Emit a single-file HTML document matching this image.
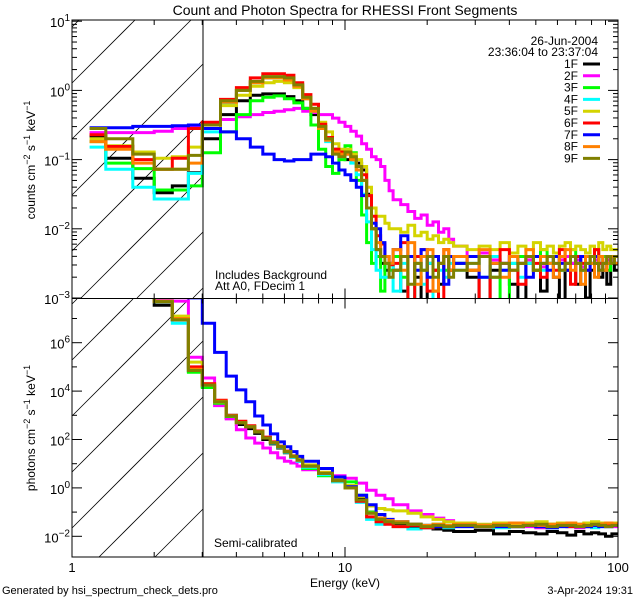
<!DOCTYPE html>
<html><head><meta charset="utf-8"><style>
html,body{margin:0;padding:0;background:#fff;width:640px;height:600px;overflow:hidden;}
svg{display:block;font-family:"Liberation Sans",sans-serif;}
</style></head><body>
<svg id="chart" width="640" height="600" viewBox="0 0 640 600" xmlns="http://www.w3.org/2000/svg">
<defs>
<clipPath id="clipTop"><rect x="72" y="20" width="546" height="278"/></clipPath>
<clipPath id="clipBot"><rect x="72" y="299" width="546" height="258"/></clipPath>
</defs>
<rect width="640" height="600" fill="#fff"/>
<text x="345" y="15" font-size="14" text-anchor="middle">Count and Photon Spectra for RHESSI Front Segments</text>
<g id="hatch"></g>
<g id="seriesTop" clip-path="url(#clipTop)"></g>
<g id="seriesBot" clip-path="url(#clipBot)"></g>
<g id="axes"></g>
<line x1="203" y1="20" x2="203" y2="557" stroke="#000" stroke-width="1"/>
<text x="598" y="45" font-size="12" text-anchor="end">26-Jun-2004</text>
<text x="598" y="56" font-size="12" text-anchor="end">23:36:04 to 23:37:04</text>
<g id="legend"></g>
<text x="215" y="279" font-size="12">Includes Background</text>
<text x="215" y="290" font-size="12">Att A0, FDecim 1</text>
<text x="214" y="547" font-size="12">Semi-calibrated</text>
<text x="345" y="587" font-size="12" text-anchor="middle">Energy (keV)</text>
<text x="2" y="594" font-size="11">Generated by hsi_spectrum_check_dets.pro</text>
<text x="633" y="594" font-size="11" text-anchor="end">3-Apr-2024 19:31</text>
<text transform="translate(35,160) rotate(-90)" font-size="12" text-anchor="middle">counts cm<tspan dy="-5" font-size="9">−2</tspan><tspan dy="5"> s</tspan><tspan dy="-5" font-size="9">−1</tspan><tspan dy="5"> keV</tspan><tspan dy="-5" font-size="9">−1</tspan></text>
<text transform="translate(35,428) rotate(-90)" font-size="12" text-anchor="middle">photons cm<tspan dy="-5" font-size="9">−2</tspan><tspan dy="5"> s</tspan><tspan dy="-5" font-size="9">−1</tspan><tspan dy="5"> keV</tspan><tspan dy="-5" font-size="9">−1</tspan></text>
</svg>
<script>
const detectors = ["1F","2F","3F","4F","5F","6F","7F","8F","9F"];
const colors = ["#000000","#ff00ff","#00ff00","#00ffff","#d4d400","#ff0000","#0000ff","#ff8000","#808000"];
const cntEdges = [1.16,1.33,1.67,2,2.33,2.67,3,3.5,4,4.5,5,5.5,6,6.5,7,7.5,8,8.5,9,9.5,10,10.5,11,11.5,12,12.5,13,13.5,14,14.5,15,16,17,18,19,20,21,22,23,24,25,28,31,34,37,40,43,46,49,52,55,58,61,64,67,70,73,76,79,82,85,88,91,94,97,100];
const phoEdges = [1.16,1.33,1.67,2,2.33,2.67,3,3.33,3.67,4,4.33,4.67,5,5.33,5.67,6,6.33,6.67,7,8,9,10,11,12,13,14,15,17,19,21,23,25,30,35,40,45,50,55,60,65,70,75,80,85,90,95,100];
// log10 counts cm^-2 s^-1 keV^-1
const cnt1F = [-0.66,-0.98,-1.27,-1.48,-1.38,-1.19, -0.7,-0.35,-0.15,-0.07,-0.05,-0.05,-0.09,-0.15,-0.26,-0.35,-0.52,-0.7,-0.85,-0.92,-1.0,-1.0,-1.05,-1.15,-1.5,-2.0,-2.3,-2.5,-2.6,-2.5, -2.6,-2.9,-2.4,-2.7,-3.3,-2.5,-2.6,-2.8,-2.4,-2.6, -2.5,-2.7,-3.3,-2.6,-2.5,-2.8,-3.2,-2.5,-2.6,-2.9,-2.5,-2.7,-3.3,-2.6,-2.5,-2.8,-2.6,-3.0,-2.6,-2.5,-2.7,-2.6,-2.8,-2.5,-2.6];
const cnt2F = [-0.61,-0.61,-0.61,-0.59,-0.55,-0.52, -0.49,-0.42,-0.38,-0.35,-0.32,-0.3,-0.28,-0.26,-0.3,-0.32,-0.35,-0.35,-0.4,-0.46,-0.52,-0.59,-0.66,-0.77,-0.85,-0.96,-1.0,-1.1,-1.3,-1.45, -1.58,-1.65,-1.75,-1.85,-1.8,-1.95,-1.9,-2.05,-2.0,-2.15, -2.25,-2.4,-2.35,-2.45,-2.5,-2.4,-2.5,-2.45,-2.4,-2.55,-2.4,-2.5,-2.45,-2.4,-2.5,-2.45,-2.55,-2.4,-2.5,-2.45,-2.4,-2.5,-2.45,-2.4,-2.5];
const cnt3F = [-0.74,-1.05,-1.13,-1.44,-1.44,-1.38, -0.9,-0.6,-0.35,-0.15,-0.1,-0.08,-0.12,-0.18,-0.26,-0.5,-0.85,-1.1,-1.2,-1.0,-0.8,-0.9,-1.3,-1.8,-2.2,-2.5,-2.4,-2.9,-2.5,-2.6, -2.4,-2.7,-3.2,-2.5,-2.6,-2.4,-2.9,-2.5,-2.6,-2.4, -2.5,-2.6,-2.4,-2.7,-3.1,-2.5,-2.4,-2.5,-2.6,-2.3,-2.5,-2.4,-2.6,-2.5,-2.3,-2.4,-2.6,-2.5,-2.4,-2.3,-2.5,-2.4,-2.6,-2.4,-2.5];
const cnt4F = [-0.82,-1.14,-1.4,-1.57,-1.57,-1.2, -0.6,-0.2,0.0,0.11,0.18,0.18,0.16,0.08,-0.12,-0.3,-0.55,-0.74,-0.92,-0.96,-0.92,-1.05,-1.22,-1.5,-1.9,-2.3,-2.6,-2.7,-2.7,-2.5, -2.9,-2.5,-3.3,-2.6,-2.8,-2.5,-3.2,-2.6,-2.7,-2.5, -2.6,-2.5,-2.7,-2.4,-2.6,-2.5,-2.7,-2.5,-2.4,-2.6,-2.5,-2.4,-2.6,-2.5,-2.4,-2.5,-2.6,-2.4,-2.5,-2.4,-2.5,-2.6,-2.4,-2.5,-2.4];
const cnt5F = [-0.7,-0.8,-0.89,-0.98,-0.96,-0.82, -0.55,-0.22,-0.07,0.06,0.11,0.13,0.11,0.04,-0.12,-0.26,-0.46,-0.6,-0.77,-0.85,-0.85,-0.92,-1.0,-1.1,-1.4,-1.7,-1.82,-1.82,-1.92,-2.0, -2.0,-2.05,-1.95,-2.1,-2.05,-2.15,-2.1,-2.2,-2.15,-2.2, -2.25,-2.3,-2.25,-2.3,-2.2,-2.35,-2.25,-2.3,-2.2,-2.3,-2.25,-2.35,-2.25,-2.2,-2.3,-2.25,-2.3,-2.35,-2.25,-2.3,-2.2,-2.3,-2.25,-2.3,-2.3];
const cnt6F = [-0.64,-0.81,-1.0,-1.14,-0.98,-0.55, -0.46,-0.13,0.04,0.18,0.24,0.24,0.22,0.11,-0.06,-0.2,-0.49,-0.68,-0.85,-0.89,-0.92,-1.0,-1.1,-1.22,-1.52,-1.82,-2.1,-2.22,-2.4,-2.52, -2.5,-2.2,-3.2,-2.4,-2.3,-2.9,-2.6,-3.3,-2.3,-2.6, -2.4,-2.6,-3.1,-2.5,-2.3,-2.6,-2.8,-2.4,-2.5,-2.7,-2.4,-2.6,-2.3,-2.5,-2.8,-2.4,-2.5,-2.6,-2.4,-2.3,-2.5,-2.6,-2.4,-2.5,-2.4];
const cnt7F = [-0.54,-0.54,-0.52,-0.52,-0.51,-0.5, -0.55,-0.6,-0.7,-0.82,-0.92,-1.0,-1.02,-1.0,-1.0,-0.92,-0.92,-0.96,-1.05,-1.15,-1.22,-1.3,-1.4,-1.52,-1.7,-1.92,-2.0,-2.2,-2.4,-2.5, -2.3,-2.1,-2.4,-2.6,-2.3,-2.7,-2.4,-2.5,-2.8,-2.4, -2.5,-2.4,-2.7,-2.5,-2.6,-2.4,-2.5,-2.7,-2.4,-2.5,-2.6,-2.4,-2.5,-2.6,-2.4,-2.5,-2.4,-2.6,-2.5,-2.4,-2.6,-2.5,-2.5,-2.4,-2.5];
const cnt8F = [-0.74,-0.85,-1.05,-1.14,-1.14,-1.05, -0.5,-0.17,0.0,0.11,0.18,0.18,0.15,0.06,-0.12,-0.3,-0.55,-0.72,-0.89,-0.92,-0.92,-1.0,-1.15,-1.3,-1.7,-2.0,-2.2,-2.4,-2.4,-2.5, -2.3,-2.6,-2.2,-2.8,-2.4,-2.3,-2.9,-2.5,-2.3,-2.6, -2.4,-2.6,-2.3,-2.5,-2.7,-2.4,-2.5,-2.3,-2.6,-2.4,-2.5,-2.7,-2.4,-2.3,-2.6,-2.5,-2.8,-2.4,-2.5,-2.7,-2.4,-2.6,-2.5,-2.4,-2.5];
const cnt9F = [-0.55,-0.7,-0.92,-1.14,-1.14,-0.94, -0.5,-0.15,0.0,0.13,0.2,0.2,0.18,0.08,-0.1,-0.26,-0.52,-0.7,-0.92,-0.96,-0.89,-0.96,-1.1,-1.3,-1.7,-2.0,-2.3,-2.4,-2.5,-2.7, -2.6,-2.4,-2.8,-2.5,-2.6,-2.4,-2.7,-2.5,-2.4,-2.7, -2.6,-2.5,-2.4,-2.7,-2.5,-2.6,-2.5,-2.4,-2.6,-2.5,-2.4,-2.5,-2.6,-2.5,-2.4,-2.5,-2.6,-2.5,-2.4,-2.5,-2.6,-2.5,-2.4,-2.5,-2.4];
// log10 photons cm^-2 s^-1 keV^-1
const pho1F = [9,9,9,7.55,6.95,4.82, 4.2,3.5,2.9,2.62,2.45,2.25,2.0,1.82,1.65,1.45,1.27,1.1, 0.85,0.55,0.28,0.0,-0.45,-1.0,-1.25,-1.4, -1.5,-1.6,-1.65,-1.7,-1.75, -1.8,-1.75,-1.9,-1.8,-1.85,-1.9,-1.8,-1.85,-1.95,-1.8,-1.9,-1.85,-1.9,-2.0,-1.9];
const pho2F = [9,9,9,7.75,7.72,5.4, 4.54,3.4,2.85,2.4,2.06,1.85,1.65,1.45,1.24,1.1,1.03,0.9, 0.75,0.6,0.5,0.4,0.2,-0.1,-0.3,-0.45, -0.7,-0.95,-1.1,-1.25,-1.35, -1.5,-1.55,-1.6,-1.55,-1.6,-1.65,-1.6,-1.55,-1.6,-1.65,-1.6,-1.6,-1.55,-1.6,-1.6];
const pho3F = [9,9,9,7.7,6.95,4.78, 4.15,3.5,2.95,2.7,2.55,2.33,2.07,1.88,1.7,1.5,1.3,1.12, 0.8,0.5,0.3,0.25,-0.3,-1.0,-1.3,-1.45, -1.4,-1.5,-1.55,-1.5,-1.55, -1.5,-1.55,-1.5,-1.45,-1.55,-1.5,-1.5,-1.55,-1.5,-1.5,-1.45,-1.5,-1.55,-1.5,-1.5];
const pho4F = [9,9,9,7.68,6.8,4.85, 4.25,3.56,3.0,2.72,2.55,2.32,2.06,1.85,1.68,1.47,1.27,1.1, 0.85,0.55,0.25,0.0,-0.6,-1.3,-1.5,-1.45, -1.6,-1.7,-1.65,-1.6,-1.65, -1.6,-1.6,-1.65,-1.6,-1.55,-1.6,-1.65,-1.6,-1.6,-1.55,-1.6,-1.65,-1.6,-1.6,-1.55];
const pho5F = [9,9,9,7.72,7.1,5.2, 4.3,3.55,2.97,2.7,2.53,2.32,2.06,1.88,1.72,1.52,1.33,1.18, 0.95,0.65,0.35,0.1,-0.35,-0.75,-0.85,-0.9, -0.95,-1.05,-1.2,-1.3,-1.4, -1.45,-1.5,-1.45,-1.5,-1.45,-1.4,-1.5,-1.45,-1.45,-1.5,-1.45,-1.4,-1.45,-1.5,-1.45];
const pho6F = [9,9,9,7.7,6.95,5.0, 4.3,3.62,3.0,2.75,2.57,2.35,2.1,1.9,1.72,1.52,1.32,1.15, 0.9,0.6,0.3,0.0,-0.55,-1.2,-1.4,-1.5, -1.6,-1.55,-1.65,-1.6,-1.6, -1.55,-1.6,-1.55,-1.6,-1.55,-1.6,-1.55,-1.5,-1.6,-1.55,-1.6,-1.55,-1.5,-1.55,-1.5];
const pho7F = [9,9,9,8.5,8.5,7.85, 6.8,5.6,4.62,4.05,3.56,2.97,2.6,2.23,1.9,1.7,1.5,1.3, 1.1,0.8,0.45,0.05,-0.3,-0.7,-1.1,-1.3, -1.4,-1.5,-1.55,-1.6,-1.6, -1.6,-1.55,-1.6,-1.6,-1.55,-1.6,-1.65,-1.6,-1.55,-1.6,-1.6,-1.55,-1.6,-1.6,-1.55];
const pho8F = [9,9,9,7.7,7.0,4.9, 4.25,3.58,2.98,2.7,2.53,2.32,2.06,1.87,1.7,1.5,1.3,1.15, 0.9,0.6,0.3,0.0,-0.5,-1.05,-1.25,-1.35, -1.4,-1.5,-1.55,-1.5,-1.55, -1.5,-1.55,-1.5,-1.45,-1.5,-1.55,-1.5,-1.5,-1.45,-1.5,-1.55,-1.5,-1.5,-1.45,-1.5];
const pho9F = [9,9,9,7.7,6.95,4.85, 4.25,3.56,2.97,2.7,2.53,2.32,2.06,1.87,1.7,1.5,1.3,1.15, 0.9,0.6,0.3,0.0,-0.5,-1.05,-1.3,-1.4, -1.45,-1.5,-1.6,-1.55,-1.6, -1.55,-1.6,-1.55,-1.6,-1.55,-1.5,-1.6,-1.55,-1.55,-1.6,-1.55,-1.5,-1.55,-1.6,-1.55];
const cntSeries = [cnt1F,cnt2F,cnt3F,cnt4F,cnt5F,cnt6F,cnt7F,cnt8F,cnt9F];
const phoSeries = [pho1F,pho2F,pho3F,pho4F,pho5F,pho6F,pho7F,pho8F,pho9F];
const xTicksMajor = [1,10,100];
const cntYTicks = [-3,-2,-1,0,1];
const phoYTicks = [-2,0,2,4,6];

const NS = "http://www.w3.org/2000/svg";
function mk(tag, attrs, parent){const e=document.createElementNS(NS,tag);for(const k in attrs)e.setAttribute(k,attrs[k]);parent.appendChild(e);return e;}
const X0=72, X1=618;
function xs(E){return X0+(X1-X0)/2*Math.log10(E);}
function ysTop(lg){return 298-(lg+3)*69.2;}
function ysBot(lg){return 342.7-(lg-6)*24.2;}
function clampY(y,lo,hi){return Math.max(lo,Math.min(hi,y));}

function stepPath(edges, vals, ys, lo, hi){
  let d="";
  for(let i=0;i<vals.length;i++){
    const xa=xs(edges[i]), xb=xs(edges[i+1]), y=clampY(ys(vals[i]),lo-3,hi+3);
    d += (i===0?"M":"L")+xa.toFixed(1)+","+y.toFixed(1)+"L"+xb.toFixed(1)+","+y.toFixed(1);
  }
  return d;
}
const gTop=document.getElementById("seriesTop"), gBot=document.getElementById("seriesBot");
for(let i=0;i<detectors.length;i++){
  const p1=mk("path",{d:stepPath(cntEdges,cntSeries[i],ysTop,20,298),fill:"none",stroke:colors[i],"stroke-width":3},gTop);
  
  
  const p2=mk("path",{d:stepPath(phoEdges,phoSeries[i],ysBot,299,557),fill:"none",stroke:colors[i],"stroke-width":3},gBot);
  
  
}
// hatching: lines y = c - (x-72), clipped manually to [72,203] x [top,bot]
const gh=document.getElementById("hatch");
function hatchLines(c0, top, bot){
  for(let c=c0-56*6;c<=c0+56*8;c+=56){
    let xa=72, ya=c, xb=203, yb=c-131;
    if(ya>bot){xa=72+(ya-bot); ya=bot;}
    if(yb<top){xb=72+(c-top); yb=top;}
    if(xa>=xb||xa>203||xb<72)continue;
    mk("line",{x1:xa,y1:ya,x2:xb,y2:yb,stroke:"#000","stroke-width":0.8},gh);
  }
}
hatchLines(83,20,298);
hatchLines(360,299,557);
const ga=document.getElementById("axes");
mk("rect",{x:72,y:20,width:546,height:537,fill:"none",stroke:"#000","stroke-width":1},ga);
mk("line",{x1:72,y1:298.5,x2:618,y2:298.5,stroke:"#000","stroke-width":1},ga);
function tick(x1,y1,x2,y2){mk("line",{x1:x1,y1:y1,x2:x2,y2:y2,stroke:"#000","stroke-width":1},ga);}
for(const d of [1,10]){
  for(let m=1;m<=10;m++){
    const E=d*m; if(E>100)continue;
    const x=xs(E), L=(m===1||m===10)?10:5;
    for(const yEdge of [[20,1],[298.5,-1],[298.5,1],[557,-1]]) tick(x,yEdge[0],x,yEdge[0]+yEdge[1]*L);
  }
}
for(const t of xTicksMajor){
  const tx=mk("text",{x:xs(t),y:572,"font-size":13,"text-anchor":"middle"},ga);
  tx.textContent=String(t);
  
  
}
function sup(txt, base, x, y){
  const t=mk("text",{x:x,y:y,"font-size":13,"text-anchor":"end"},ga);
  const a=document.createElementNS(NS,"tspan"); a.textContent=base; t.appendChild(a);
  const b=document.createElementNS(NS,"tspan"); b.setAttribute("dy","-6"); b.setAttribute("font-size","10"); b.textContent=txt; t.appendChild(b);
  
  
}
for(let lg=-3;lg<=1;lg++){
  for(let m=1;m<=9;m++){
    const v=lg+Math.log10(m); if(v>1.02)continue;
    const y=ysTop(v), L=m===1?10:5;
    if(y<20)continue;
    tick(72,y,72+L,y); tick(618,y,618-L,y);
  }
}
for(const lg of cntYTicks){sup(lg<0?"−"+(-lg):String(lg),"10",70,ysTop(lg)+6);}
for(let lg=-2;lg<=7;lg++){
  const y=ysBot(lg), L=lg%2===0?10:5;
  tick(72,y,72+L,y); tick(618,y,618-L,y);
}
for(const lg of phoYTicks){sup(lg<0?"−"+(-lg):String(lg),"10",70,ysBot(lg)+6);}
const gl=document.getElementById("legend");
for(let i=0;i<detectors.length;i++){
  const y=64+i*11.8;
  const t=mk("text",{x:578,y:y+4,"font-size":12,"text-anchor":"end"},gl);
  t.textContent=detectors[i];
  
  
  const l=mk("line",{x1:583,y1:y,x2:600,y2:y,stroke:colors[i],"stroke-width":3},gl);
  
  
}
</script>
</body></html>
